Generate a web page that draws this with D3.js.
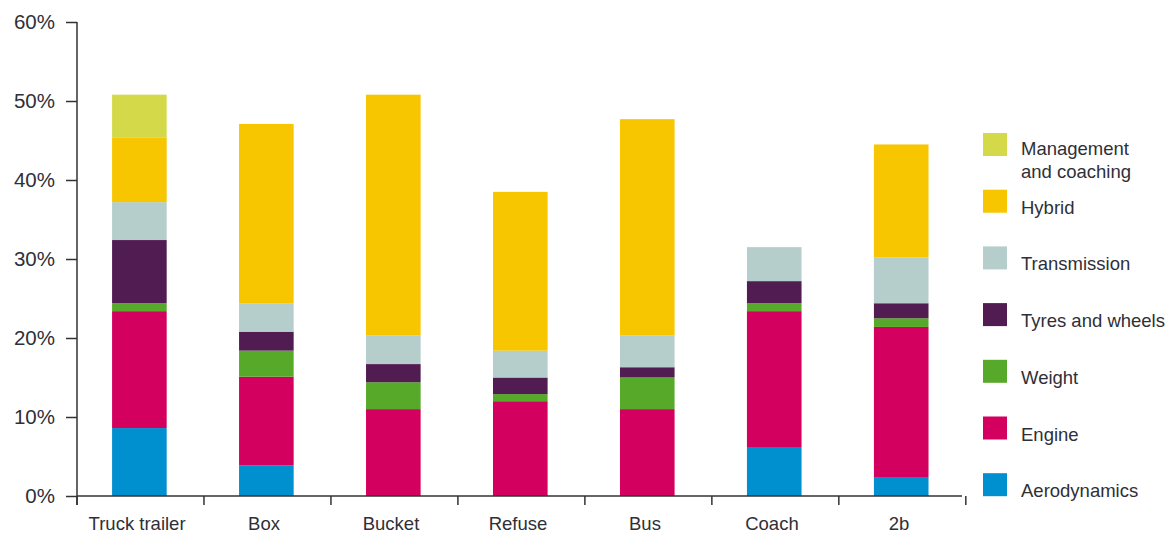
<!DOCTYPE html>
<html>
<head>
<meta charset="utf-8">
<script src="https://cdn.jsdelivr.net/npm/d3@7"></script>
<style>
  html, body { margin: 0; padding: 0; background: #fff; }
  svg { display: block; font-family: "Liberation Sans", Arial, sans-serif; }
</style>
</head>
<body>
<svg id="chart" width="1175" height="536"></svg>
<script>
const categories = ["Truck trailer", "Box", "Bucket", "Refuse", "Bus", "Coach", "2b"];
const seriesNames = ["Aerodynamics", "Engine", "Weight", "Tyres and wheels", "Transmission", "Hybrid", "Management and coaching"];
const aerodynamics = [8.6, 3.9, 0, 0, 0, 6.2, 2.4];
const engine       = [14.8, 11.2, 11.0, 12.0, 11.0, 17.2, 19.0];
const weight       = [1.0, 3.3, 3.4, 0.9, 4.0, 1.0, 1.1];
const tyres        = [8.0, 2.4, 2.3, 2.1, 1.3, 2.8, 1.9];
const transmission = [4.8, 3.6, 3.6, 3.4, 4.0, 4.3, 5.8];
const hybrid       = [8.2, 22.7, 30.5, 20.1, 27.4, 0, 14.3];
const management   = [5.4, 0, 0, 0, 0, 0, 0];
const yTicks = [0, 10, 20, 30, 40, 50, 60];
const colors = ["#008fcf", "#d3005f", "#57a92a", "#511c52", "#b5cecb", "#f7c600", "#d4d94a"];

const seriesValues = [aerodynamics, engine, weight, tyres, transmission, hybrid, management];
const rows = categories.map((c, i) => {
  const r = { category: c };
  seriesNames.forEach((s, j) => r[s] = seriesValues[j][i]);
  return r;
});
const stack = d3.stack().keys(seriesNames)(rows);

const svg = d3.select("#chart");
const x = d3.scaleBand().domain(categories).range([77, 962]).paddingInner(0.57).paddingOuter(0.27);
const y = d3.scaleLinear().domain([0, 60]).range([496, 22]);
const color = d3.scaleOrdinal().domain(seriesNames).range(colors);
const barShift = 0.8;

// bars
svg.append("g").selectAll("g").data(stack).join("g")
  .attr("fill", d => color(d.key))
  .selectAll("rect").data(d => d).join("rect")
  .attr("x", d => x(d.data.category) + barShift)
  .attr("width", x.bandwidth())
  .attr("y", d => y(d[1]))
  .attr("height", d => Math.max(0, y(d[0]) - y(d[1])));

const axisColor = "#333";
const textColor = "#2f2f38";

// y axis
const yAxis = svg.append("g").attr("transform", "translate(77,0)")
  .call(d3.axisLeft(y).tickValues(yTicks).tickFormat(d => d + "%").tickSize(11).tickPadding(11));
yAxis.select(".domain").remove();
yAxis.selectAll("line").attr("stroke", axisColor).attr("stroke-width", 1.5);
yAxis.selectAll("text").attr("fill", textColor).attr("font-size", 20.5);
svg.append("line").attr("x1", 77).attr("x2", 77).attr("y1", y(60)).attr("y2", 505)
  .attr("stroke", axisColor).attr("stroke-width", 1.5);

// x axis
const step = x.step();
const x0 = x.range()[0];
const boundaries = d3.range(categories.length + 1).map(i => x0 + i * step);
svg.append("line").attr("x1", 77).attr("x2", x.range()[1]).attr("y1", y(0)).attr("y2", y(0))
  .attr("stroke", axisColor).attr("stroke-width", 1.5);
svg.append("g").selectAll("line").data(boundaries).join("line")
  .attr("x1", d => d).attr("x2", d => d).attr("y1", y(0)).attr("y2", y(0) + 9)
  .attr("stroke", axisColor).attr("stroke-width", 1.5);
svg.append("g").selectAll("text").data(categories).join("text")
  .attr("x", d => x(d) + x.bandwidth() / 2 - 1.5)
  .attr("y", 530)
  .attr("text-anchor", "middle")
  .attr("font-size", 18.5)
  .attr("fill", textColor)
  .text(d => d);

// legend (top to bottom in reverse stack order)
const legendOrder = seriesNames.slice().reverse();
const lg = svg.append("g").selectAll("g").data(legendOrder).join("g")
  .attr("transform", (d, i) => `translate(983,${133 + i * 56.7})`);
lg.append("rect").attr("width", 24).attr("height", 23).attr("fill", d => color(d));
lg.each(function(d) {
  const g = d3.select(this);
  const lines = d === "Management and coaching" ? ["Management", "and coaching"] : [d];
  lines.forEach((t, k) => {
    g.append("text").attr("x", 38).attr("y", 24 + k * 23 - (lines.length > 1 ? 2 : 0))
      .attr("font-size", 18.5).attr("fill", textColor).text(t);
  });
});
</script>
</body>
</html>
